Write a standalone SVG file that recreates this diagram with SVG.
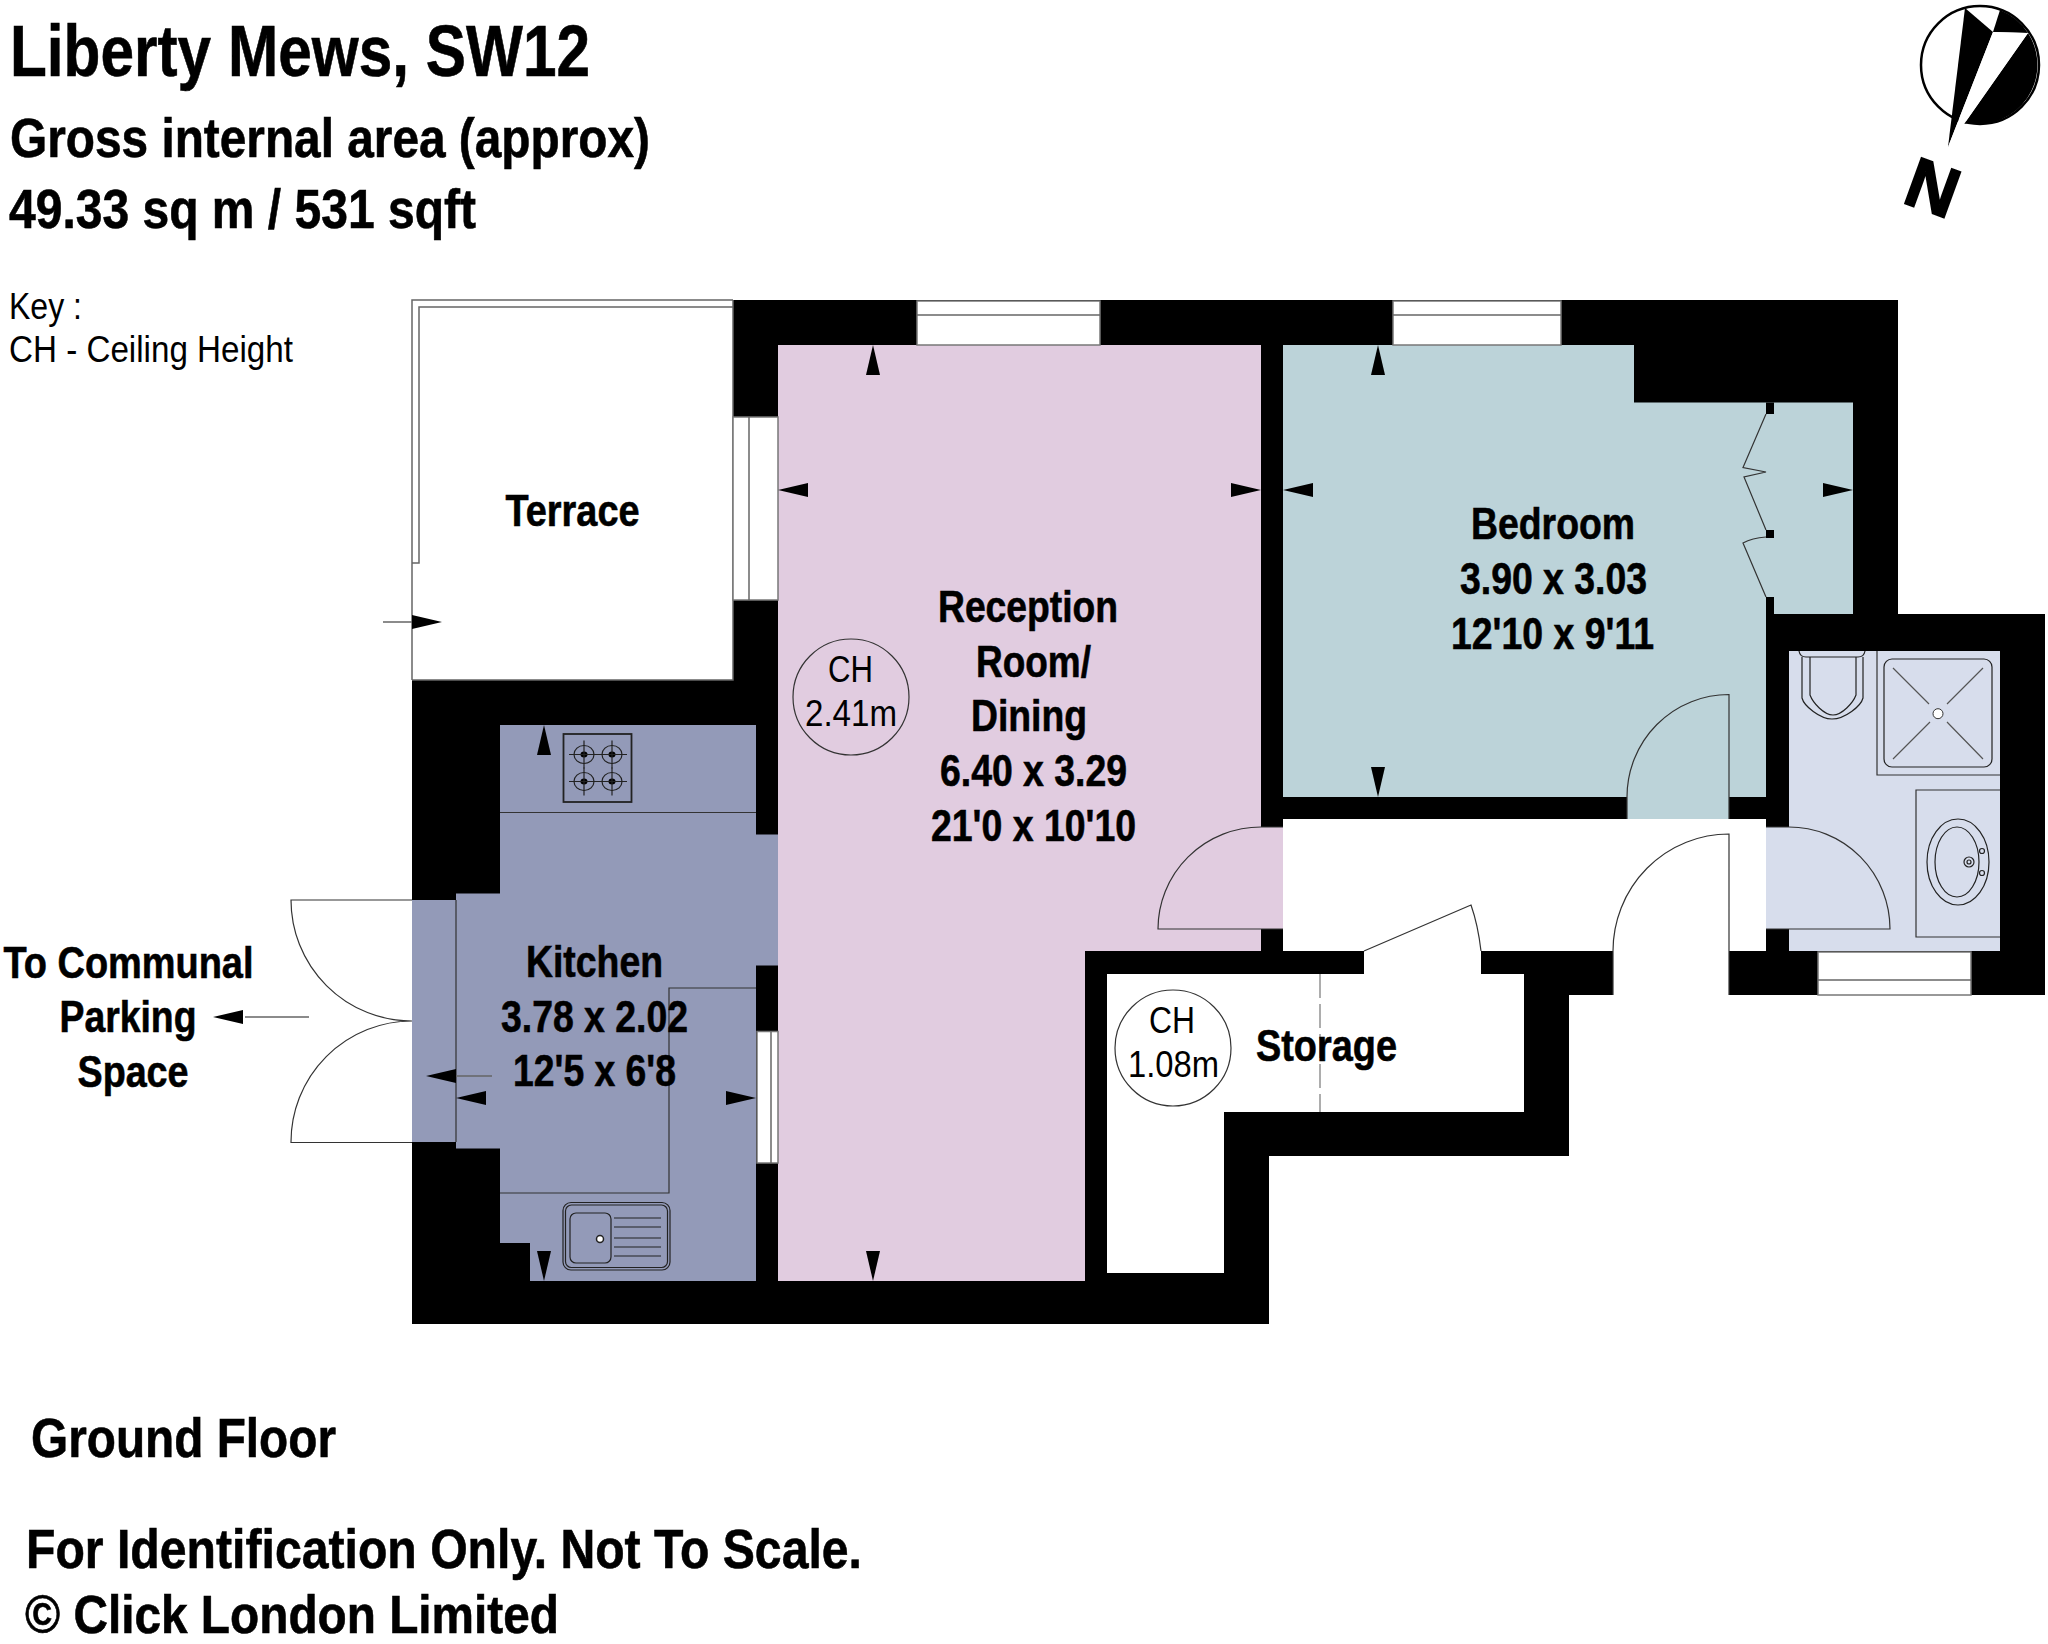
<svg xmlns="http://www.w3.org/2000/svg" xmlns:xlink="http://www.w3.org/1999/xlink" width="2048" height="1644" viewBox="0 0 2048 1644">
<style>
text{font-family:"Liberation Sans",Arial,sans-serif;fill:#000}
.h{font-weight:700;stroke:#000;stroke-width:.6}
.t72{font-size:72px}.t56{font-size:56px}.t44{font-size:44px}.t37{font-size:37px}
.wall{fill:#000}
.ln{fill:none;stroke:#333;stroke-width:1.2}
.gr{fill:none;stroke:#666;stroke-width:1.5}
.fx{fill:none;stroke:#222;stroke-width:1.2}
.win{fill:#fff;stroke:#777;stroke-width:1.5}
.ar{fill:#000}
</style>
<defs>
<g id="burner"><ellipse rx="10" ry="9" class="fx"/><ellipse rx="3.5" ry="3" fill="#000"/><path d="M-15 0H15M0 -14V14" class="fx"/></g>
<polygon id="arrow" class="ar" points="0,0 -30,-7 -30,7"/>
</defs>
<rect width="2048" height="1644" fill="#fff"/>

<g id="headings">
<text class="h t72" x="10" y="76" textLength="580" lengthAdjust="spacingAndGlyphs">Liberty Mews, SW12</text>
<text class="h t56" x="10" y="157" textLength="640" lengthAdjust="spacingAndGlyphs">Gross internal area (approx)</text>
<text class="h t56" x="9" y="228" textLength="467" lengthAdjust="spacingAndGlyphs">49.33 sq m / 531 sqft</text>
<text x="9" y="319" font-size="36" textLength="73" lengthAdjust="spacingAndGlyphs">Key :</text>
<text x="9" y="362" font-size="36" textLength="284" lengthAdjust="spacingAndGlyphs">CH - Ceiling Height</text>
<text class="h t56" x="31" y="1457" textLength="305" lengthAdjust="spacingAndGlyphs">Ground Floor</text>
<text class="h t56" x="26" y="1568" textLength="836" lengthAdjust="spacingAndGlyphs">For Identification Only. Not To Scale.</text>
<text class="h" font-size="54" x="25" y="1632.5" textLength="534" lengthAdjust="spacingAndGlyphs">© Click London Limited</text>
</g>

<g id="compass">
<circle cx="1980" cy="65" r="59" fill="#fff" stroke="#000" stroke-width="2.5"/>
<path d="M2028 33A59 59 0 0 1 1968 123L1964 124Z" fill="#000"/>
<path d="M1993 32L2000 10A59 59 0 0 1 2028 33Z" fill="#000"/>
<polygon points="1948,147 1965,8 1993,32" fill="#000"/>
<polygon points="1948,147 1993,32 2028,33" fill="#fff"/>
<text class="h" font-size="70" text-anchor="middle" stroke-width="2" style="stroke-width:2px" transform="translate(1933 187) rotate(20)" y="25">N</text>
</g>

<g id="walls">
<polygon class="wall" points="412,680 733,680 733,300 1898,300 1898,614 2045,614 2045,995 1569,995 1569,1156 1269,1156 1269,1324 412,1324"/>
</g>

<g id="terrace">
<path d="M412 680V300H733" class="gr"/>
<path d="M412 563H419V307H733" class="gr"/>
<path d="M412 680H733V300" class="gr"/>
<text class="h t44" x="505.500" y="526" textLength="134" lengthAdjust="spacingAndGlyphs">Terrace</text>
</g>

<g id="reception">
<polygon fill="#E1CCE0" points="778,345 1261,345 1261,827 1283,827 1283,929 1261,929 1261,951 1085,951 1085,1281 778,1281"/>
<path class="ln" d="M1283 929H1158A103 102 0 0 1 1261 827H1283"/>
<circle cx="851" cy="697" r="58" class="ln"/>
<text class="t37" x="828" y="682" textLength="45" lengthAdjust="spacingAndGlyphs">CH</text>
<text class="t37" x="805" y="726" textLength="92" lengthAdjust="spacingAndGlyphs">2.41m</text>
<text class="h t44" x="938" y="622" textLength="180" lengthAdjust="spacingAndGlyphs">Reception</text>
<text class="h t44" x="976" y="677" textLength="115" lengthAdjust="spacingAndGlyphs">Room/</text>
<text class="h t44" x="971" y="731" textLength="116" lengthAdjust="spacingAndGlyphs">Dining</text>
<text class="h t44" x="940" y="786" textLength="187" lengthAdjust="spacingAndGlyphs">6.40 x 3.29</text>
<text class="h t44" x="931" y="841" textLength="205" lengthAdjust="spacingAndGlyphs">21'0 x 10'10</text>
</g>

<g id="kitchen">
<polygon fill="#939AB8" points="500,725 756,725 756,834.5 778,834.5 778,965.5 756,965.5 756,1281 530,1281 530,1243 500,1243 500,1148.6 456,1148.6 456,1142 412,1142 412,900 456,900 456,893.5 500,893.5"/>
<path class="ln" d="M500 812.5H756M756 988H669V1193H500M456 900V1142"/>
<rect class="win" x="757" y="1031.5" width="21" height="131.5"/>
<path class="gr" d="M771 1031.500V1163"/>
<path class="ln" d="M412 900H291A121 121 0 0 0 412 1021A121 121 0 0 0 291 1142.500H412"/>
<g id="hob">
<rect x="563.5" y="734" width="68" height="68" fill="none" stroke="#222" stroke-width="1.8"/>
<use xlink:href="#burner" href="#burner" x="584" y="754.5"/>
<use xlink:href="#burner" href="#burner" x="612" y="754.5"/>
<use xlink:href="#burner" href="#burner" x="584" y="781.5"/>
<use xlink:href="#burner" href="#burner" x="612" y="781.5"/>
</g>
<g id="sink">
<rect x="563" y="1202.5" width="107" height="67.5" rx="8" class="fx"/>
<rect x="565.5" y="1205" width="102" height="62.5" rx="6" class="fx"/>
<rect x="570" y="1213" width="41" height="50" rx="6" class="fx"/>
<circle cx="600" cy="1239" r="3.5" fill="#fff" stroke="#222" stroke-width="1.5"/>
<path class="fx" d="M614 1218H661M614 1227H661M614 1238H661M614 1247H661M614 1256H661"/>
</g>
<text class="h t44" x="526" y="977" textLength="137" lengthAdjust="spacingAndGlyphs">Kitchen</text>
<text class="h t44" x="501" y="1031.5" textLength="187" lengthAdjust="spacingAndGlyphs">3.78 x 2.02</text>
<text class="h t44" x="513" y="1086" textLength="163" lengthAdjust="spacingAndGlyphs">12'5 x 6'8</text>
</g>

<g id="bedroom">
<polygon fill="#BCD3D9" points="1283,345 1634,345 1634,402.5 1853,402.5 1853,614 1774,614 1774,597 1766,597 1766,797 1729,797 1729,819 1627,819 1627,797 1283,797"/>
<rect class="wall" x="1766" y="402.5" width="8" height="11.5"/>
<rect class="wall" x="1766" y="530" width="8" height="8"/>
<rect class="wall" x="1766" y="597" width="8" height="17"/>
<path class="ln" d="M1766 414L1743 467.5L1766 472L1744 477L1766 530M1766 537Q1752 538 1743 543L1766 597"/>
<path class="ln" d="M1729 819V694.5A102 102.5 0 0 0 1627 797V819"/>
<text class="h t44" x="1471" y="539" textLength="164" lengthAdjust="spacingAndGlyphs">Bedroom</text>
<text class="h t44" x="1460" y="594" textLength="187" lengthAdjust="spacingAndGlyphs">3.90 x 3.03</text>
<text class="h t44" x="1451" y="649" textLength="203" lengthAdjust="spacingAndGlyphs">12'10 x 9'11</text>
</g>

<g id="hall">
<rect x="1283" y="819" width="483" height="132" fill="#fff"/>
<rect x="1613" y="951" width="116" height="44" fill="#fff"/>
<rect x="1364" y="951" width="117" height="23" fill="#fff"/>
<path class="ln" d="M1729 995V834A116 117 0 0 0 1613 951V995"/>
</g>

<g id="storage">
<polygon fill="#fff" points="1107,974 1524,974 1524,1112 1224,1112 1224,1273 1107,1273"/>
<path class="ln" d="M1364 951L1471 905Q1478 925 1481 951"/>
<path d="M1320 974V1112" fill="none" stroke="#777" stroke-width="1.2" stroke-dasharray="24 6"/>
<circle cx="1173" cy="1048" r="58" class="ln"/>
<text class="t37" x="1149" y="1033" textLength="46" lengthAdjust="spacingAndGlyphs">CH</text>
<text class="t37" x="1128" y="1077" textLength="91" lengthAdjust="spacingAndGlyphs">1.08m</text>
<text class="h t44" x="1256" y="1061" textLength="141" lengthAdjust="spacingAndGlyphs">Storage</text>
</g>

<g id="bathroom">
<polygon fill="#D7DDEC" points="1789,651 2000,651 2000,951 1789,951 1789,929 1766,929 1766,827 1789,827"/>
<path class="ln" d="M1766 929H1890A101 102 0 0 0 1789 827H1766"/>
<path class="fx" d="M1802 657V698C1804 706 1820 719 1832 719C1845 719 1861 706 1863 698V657M1810 657V695C1813 703 1824 715 1833 715C1842 715 1853 703 1856 695V657M1799 651Q1800 657 1806 657H1858Q1864 657 1865 651"/>
<path class="ln" d="M1877 651V775H2000"/>
<rect x="1884" y="659" width="108" height="108" rx="8" class="fx"/>
<path d="M1893 668L1929 704M1983 668L1947 704M1893 759L1930 722M1983 759L1947 722" fill="none" stroke="#555" stroke-width="1.2"/>
<circle cx="1938" cy="713.7" r="5" fill="#fff" stroke="#333"/>
<path class="ln" d="M2000 790H1916V937H2000"/>
<ellipse cx="1958" cy="862" rx="31" ry="43" class="fx"/>
<ellipse cx="1957" cy="862" rx="22" ry="35" class="fx"/>
<circle cx="1982" cy="851" r="2.5" class="fx"/>
<circle cx="1982" cy="873" r="2.5" class="fx"/>
<circle cx="1969" cy="862" r="5" class="fx"/>
<circle cx="1969" cy="862" r="2" class="fx"/>
</g>

<g id="windows">
<rect class="win" x="733" y="417" width="45" height="183"/>
<path class="gr" d="M749 417V600"/>
<rect class="win" x="917" y="301" width="183" height="44"/>
<path class="gr" d="M917 315H1100"/>
<rect class="win" x="1393" y="301" width="168" height="44"/>
<path class="gr" d="M1393 315H1561"/>
<rect class="win" x="1818" y="952" width="153" height="43"/>
<path class="gr" d="M1818 980H1971"/>
</g>

<g id="connectors">
<path class="gr" d="M383 622H412M309 1017H245M456 1076H492"/>
<use xlink:href="#arrow" href="#arrow" transform="translate(442 622)"/>
<use xlink:href="#arrow" href="#arrow" transform="translate(213 1017) rotate(180)"/>
<use xlink:href="#arrow" href="#arrow" transform="translate(426 1076) rotate(180)"/>
<use xlink:href="#arrow" href="#arrow" transform="translate(456 1098) rotate(180)"/>
<use xlink:href="#arrow" href="#arrow" transform="translate(756 1098)"/>
<use xlink:href="#arrow" href="#arrow" transform="translate(544 725) rotate(-90)"/>
<use xlink:href="#arrow" href="#arrow" transform="translate(544 1281) rotate(90)"/>
<use xlink:href="#arrow" href="#arrow" transform="translate(778 490) rotate(180)"/>
<use xlink:href="#arrow" href="#arrow" transform="translate(1261 490)"/>
<use xlink:href="#arrow" href="#arrow" transform="translate(873 345) rotate(-90)"/>
<use xlink:href="#arrow" href="#arrow" transform="translate(873 1281) rotate(90)"/>
<use xlink:href="#arrow" href="#arrow" transform="translate(1283 490) rotate(180)"/>
<use xlink:href="#arrow" href="#arrow" transform="translate(1853 490)"/>
<use xlink:href="#arrow" href="#arrow" transform="translate(1378 345) rotate(-90)"/>
<use xlink:href="#arrow" href="#arrow" transform="translate(1378 797) rotate(90)"/>
</g>

<g id="parking-label">
<text class="h t44" x="3.500" y="977.500" textLength="250" lengthAdjust="spacingAndGlyphs">To Communal</text>
<text class="h t44" x="59.500" y="1031.500" textLength="137" lengthAdjust="spacingAndGlyphs">Parking</text>
<text class="h t44" x="77.500" y="1086.500" textLength="111" lengthAdjust="spacingAndGlyphs">Space</text>
</g>
</svg>
